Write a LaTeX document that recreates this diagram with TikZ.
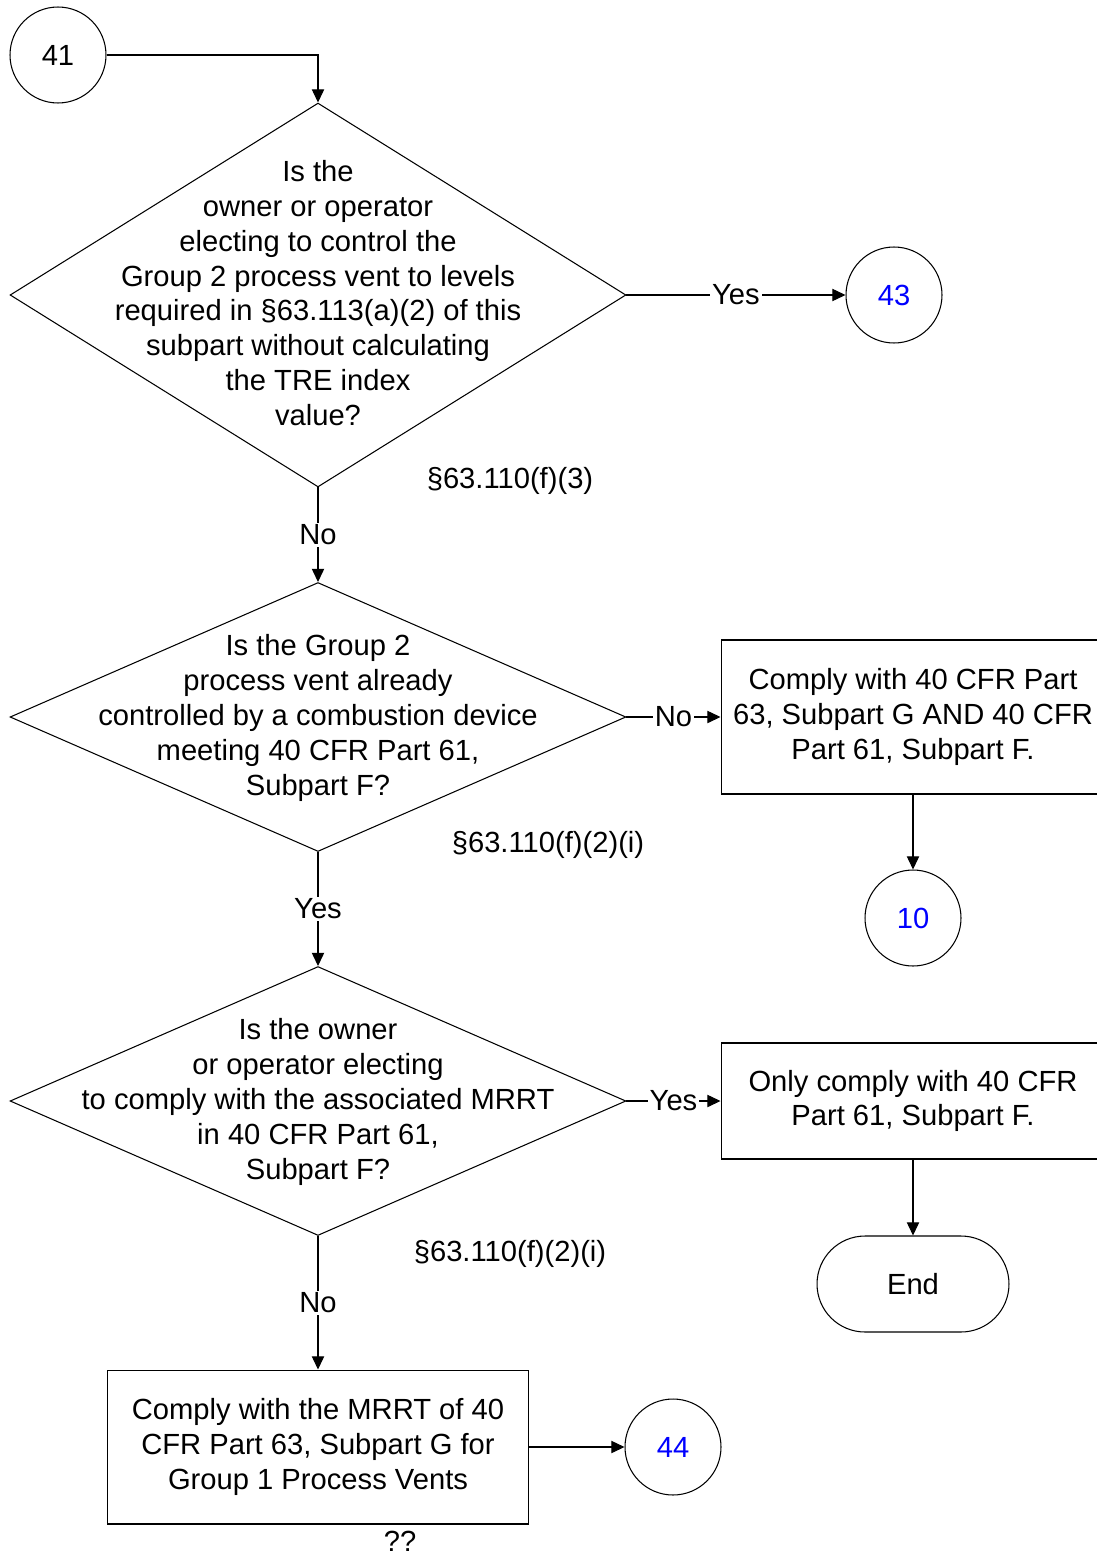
\documentclass[tikz,border=0pt]{standalone}
\usepackage{fontspec}
\setmainfont{Liberation Sans}
\usetikzlibrary{arrows.meta,shapes.geometric}
\usepackage{xcolor}
\definecolor{LinkBlue}{HTML}{0000FF}

\begin{document}
\begin{tikzpicture}[x=0.02cm,y=-0.02cm,
    font=\fontsize{16.6}{19.8}\selectfont,
    line width=0.6pt,
    flow/.style={draw,-{Triangle[length=7.5pt,width=7pt]}},
    lbl/.style={fill=white,inner sep=1pt},
    conn/.style={circle,draw,minimum size=1.92cm,inner sep=0pt},
    decision/.style={diamond,draw,minimum width=12.32cm,inner sep=0pt},
    action/.style={rectangle,draw,minimum width=7.68cm,align=center,inner sep=0pt},
    terminal/.style={rectangle,draw,rounded corners=0.96cm,minimum width=3.84cm,minimum height=1.92cm}]
    \clip (0,0) rectangle (1097,1555);
    \useasboundingbox (0,0) rectangle (1097,1555);

    % off-page connectors
    \node[conn] (c41) at (58,55) {41};
    \node[conn] (c43) at (894,295) {\color{LinkBlue}43};
    \node[conn] (c10) at (913,918) {\color{LinkBlue}10};
    \node[conn] (c44) at (673,1447) {\color{LinkBlue}44};

    % decisions
    \node[decision,minimum height=7.68cm] (q1) at (318,295) {};
    \node[align=center] (q1t) at (318,293) {Is the\\owner or operator\\electing to control the\\
      Group 2 process vent to levels\\required in \S63.113(a)(2) of this\\
      subpart without calculating\\the TRE index\\value?};
    \node (r1) at (510,481) {\S63.110(f)(3)};

    \node[decision,minimum height=5.38cm] (q2) at (318,717) {};
    \node[align=center] (q2t) at (318,718) {Is the Group 2\\process vent already\\
      controlled by a combustion device\\meeting 40 CFR Part 61,\\Subpart F?};
    \node (r2) at (548,845) {\S63.110(f)(2)(i)};

    \node[decision,minimum height=5.38cm] (q3) at (318,1101) {};
    \node[align=center] (q3t) at (318,1102) {Is the owner\\or operator electing\\
      to comply with the associated MRRT\\in 40 CFR Part 61,\\Subpart F?};
    \node (r3) at (510,1254) {\S63.110(f)(2)(i)};

    % actions
    \node[action,minimum height=3.08cm] (a1) at (913,717)
      {Comply with 40 CFR Part\\63, Subpart G AND 40 CFR\\Part 61, Subpart F.};
    \node[action,minimum height=2.32cm] (a2) at (913,1101)
      {Only comply with 40 CFR\\Part 61, Subpart F.};
    \node[action,minimum width=8.44cm,minimum height=3.08cm] (a3) at (318,1447)
      {Comply with the MRRT of 40\\CFR Part 63, Subpart G for\\Group 1 Process Vents};
    \node[terminal] (stop) at (913,1284) {End};
    \node[inner sep=0pt] (qq) at (400,1541) {??};

    % connectors
    \draw[flow] (c41.east) -| (q1.north);
    \draw[flow] (q1.east) -- node[lbl] {Yes} (c43);
    \draw[flow] (q1.south) -- node[lbl] {No} (q2.north);
    \draw[flow] (q2.east) -- node[lbl] {No} (a1.west);
    \draw[flow] (a1.south) -- (c10.north);
    \draw[flow] (q2.south) -- node[lbl] {Yes} (q3.north);
    \draw[flow] (q3.east) -- node[lbl] {Yes} (a2.west);
    \draw[flow] (a2.south) -- (stop.north);
    \draw[flow] (q3.south) -- node[lbl] {No} (a3.north);
    \draw[flow] (a3.east) -- (c44.west);
  \end{tikzpicture}
\end{document}
